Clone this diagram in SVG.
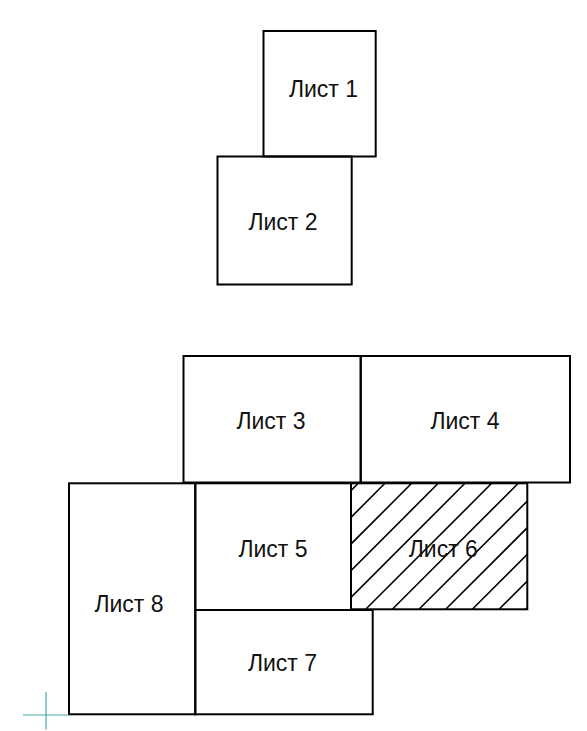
<svg xmlns="http://www.w3.org/2000/svg" width="587" height="731" viewBox="0 0 587 731">
<style>
.s{fill:none;stroke:#000;stroke-width:2}
.t{font-family:"Liberation Sans",Arial,sans-serif;font-size:23px;fill:#111;text-anchor:middle}
.h{stroke:#000;stroke-width:1.6}
</style>
<defs>
<clipPath id="c6"><rect x="351" y="483.3" width="176.3" height="126"/></clipPath>
</defs>
<rect width="587" height="731" fill="#fff"/>
<g id="sheet1"><rect class="s" x="263.5" y="31" width="112.2" height="125.5"/><text class="t" x="323.5" y="96.7">Лист 1</text></g>
<g id="sheet2"><rect class="s" x="217.5" y="156.5" width="134.2" height="128"/><text class="t" x="283" y="230">Лист 2</text></g>
<g id="sheet3"><rect class="s" x="183.5" y="356" width="177.2" height="126.5"/><text class="t" x="271" y="429.3">Лист 3</text></g>
<g id="sheet4"><rect class="s" x="360.7" y="356" width="209.3" height="126.5"/><text class="t" x="465" y="429.3">Лист 4</text></g>
<g id="sheet8"><rect class="s" x="69" y="483.3" width="126.3" height="231"/><text class="t" x="129" y="611.7">Лист 8</text></g>
<g id="sheet5"><rect class="s" x="195.3" y="483.3" width="155.7" height="126.7"/><text class="t" x="273" y="557">Лист 5</text></g>
<g id="sheet6">
<g clip-path="url(#c6)">
<line class="h" x1="232.3" y1="609.3" x2="358.3" y2="483.3"/>
<line class="h" x1="259" y1="609.3" x2="385" y2="483.3"/>
<line class="h" x1="285.7" y1="609.3" x2="411.7" y2="483.3"/>
<line class="h" x1="312.3" y1="609.3" x2="438.3" y2="483.3"/>
<line class="h" x1="339" y1="609.3" x2="465" y2="483.3"/>
<line class="h" x1="365.7" y1="609.3" x2="491.7" y2="483.3"/>
<line class="h" x1="392.3" y1="609.3" x2="518.3" y2="483.3"/>
<line class="h" x1="419" y1="609.3" x2="545" y2="483.3"/>
<line class="h" x1="445.7" y1="609.3" x2="571.7" y2="483.3"/>
<line class="h" x1="472.3" y1="609.3" x2="598.3" y2="483.3"/>
<line class="h" x1="499" y1="609.3" x2="625" y2="483.3"/>
<line class="h" x1="525.7" y1="609.3" x2="651.7" y2="483.3"/>
</g>
<rect class="s" x="351" y="483.3" width="176.3" height="126"/>
<text class="t" x="443.3" y="556.7">Лист 6</text>
</g>
<g id="sheet7"><rect class="s" x="195.3" y="610" width="177.4" height="104.3"/><text class="t" x="282.5" y="671">Лист 7</text></g>
<g id="connectors"></g>
<g id="cross"><line x1="23" y1="715" x2="69" y2="715" stroke="#4aa8a8" stroke-width="1.2"/><line x1="46" y1="692" x2="46" y2="729.5" stroke="#4aa8a8" stroke-width="1.2"/></g>
</svg>
